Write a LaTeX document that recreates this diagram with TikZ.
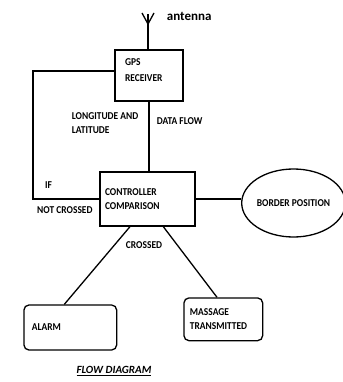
\documentclass[tikz,border=0pt]{standalone}
\usepackage{fontspec}
\setmainfont{Carlito}
\newfontfamily\stretto{Carlito}[FakeStretch=0.9]
\usetikzlibrary{shapes.geometric}

\tikzset{
    testo/.style={font=\stretto\bfseries\fontsize{10.5}{14.5}\selectfont},
    blocco/.style={testo, draw, line width=1.3pt, align=left, inner ysep=0pt},
    arrotondato/.style={blocco, rounded corners=5pt},
    etichetta/.style={testo, inner sep=0pt, anchor=west, align=left},
    linea/.style={line width=1.3pt}
}

\begin{document}
\begin{tikzpicture}[x=1pt,y=-1pt]
        \useasboundingbox (0,0) rectangle (342,382);

        %%%%%%%%%% Blocchi %%%%%%%%%%
        \node[blocco, minimum width=68pt, minimum height=51pt, text width=48pt, inner xsep=10pt, text depth=26pt, font=\stretto\bfseries\fontsize{10.5}{16}\selectfont] (gps) at (149,75.5) {GPS\\RECEIVER};
        \node[blocco, minimum width=95pt, minimum height=54pt, text width=85pt, inner xsep=5pt] (ctrl) at (147.5,199) {CONTROLLER\\COMPARISON};
        \node[testo, draw, ellipse, line width=1.3pt, minimum width=96pt, minimum height=68pt, inner sep=0pt] (confine) at (293.5,203) {BORDER POSITION};
        \node[arrotondato, minimum width=92.7pt, minimum height=45pt, text width=76.7pt, inner xsep=8pt] (allarme) at (70.3,327.5) {ALARM};
        \node[arrotondato, minimum width=78.7pt, minimum height=42.7pt, text width=66.7pt, inner xsep=6pt] (messaggio) at (223.3,319.3) {MASSAGE\\TRANSMITTED};

        %%%%%%%%%% Etichette %%%%%%%%%%
        \node[etichetta, font=\bfseries\fontsize{13}{15}\selectfont] (nomeant) at (166.7,16) {antenna};
        \node[etichetta] (lonlat) at (71.7,123) {LONGITUDE AND\\LATITUDE};
        \node[etichetta] (flusso) at (156.7,120.7) {DATA FLOW};
        \node[etichetta] (se) at (45,185) {IF};
        \node[etichetta] (noncross) at (37,210) {NOT CROSSED};
        \node[testo, inner sep=0pt] (cross) at (144,245) {CROSSED};
        \node[inner sep=0pt, font=\bfseries\itshape\fontsize{11}{12}\selectfont] (titolo) at (114,371) {\underline{FLOW DIAGRAM}};

        %%%%%%%%%% Antenna %%%%%%%%%%
        \coordinate (ant) at (148,14);
        \coordinate (vertice) at (148,24);
        \coordinate (braccioS) at (142,13);
        \coordinate (braccioD) at (154,13);
        \draw[linea] (vertice |- gps.north) -- (ant);
        \draw[linea] (braccioS) -- (vertice) -- (braccioD);

        %%%%%%%%%% Linee %%%%%%%%%%
        \coordinate (angolo) at (33,71);
        \draw[linea] ([yshift=4.5pt]gps.west) -- (angolo) |- (ctrl.west);
        \draw[linea] (gps.south) -- (gps.south |- ctrl.north);
        \draw[linea] (ctrl.east) -- (ctrl.east -| confine.west);
        \draw[linea] ([xshift=-17.5pt]ctrl.south) -- ([xshift=-6pt]allarme.north);
        \draw[linea] ([xshift=15.8pt]ctrl.south) -- ([xshift=-6.3pt]messaggio.north);
    \end{tikzpicture}
\end{document}
